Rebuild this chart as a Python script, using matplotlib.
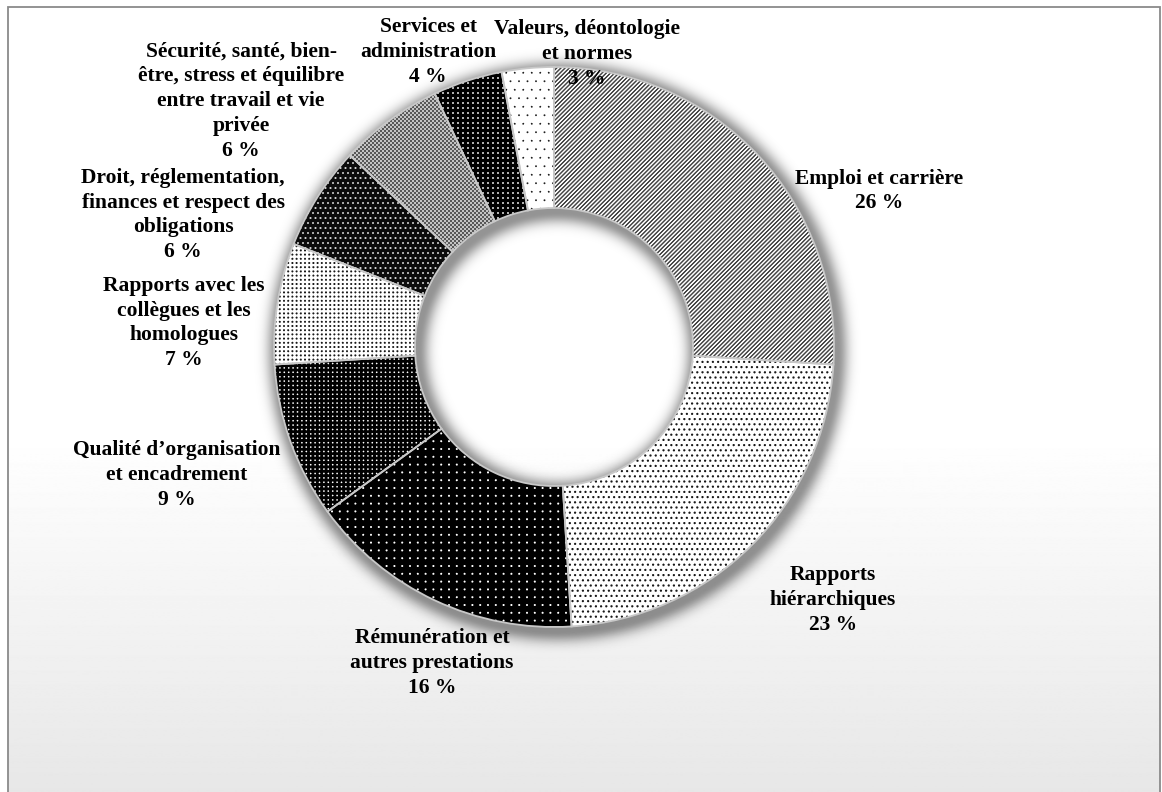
import matplotlib
import numpy as np

matplotlib.use('agg')
import matplotlib.pyplot as plt
from matplotlib.patches import Rectangle

# share of requests per theme (%)
categories = ['Emploi et carrière',
              'Rapports\nhiérarchiques',
              'Rémunération et\nautres prestations',
              'Qualité d’organisation\net encadrement',
              'Rapports avec les\ncollègues et les\nhomologues',
              'Droit, réglementation,\nfinances et respect des\nobligations',
              'Sécurité, santé, bien-\nêtre, stress et équilibre\nentre travail et vie\nprivée',
              'Services et\nadministration',
              'Valeurs, déontologie\net normes']
values = [26, 23, 16, 9, 7, 6, 6, 4, 3]

W, H = 1162, 792
cx, cy = 554, 347          # ring centre (pixels, from top)
r_out, r_in = 280, 139

# label anchors (pixels, from top)
label_xy = [(879, 191), (833, 600), (432, 663), (177, 475), (184, 323),
            (183, 215), (241, 101), (428, 52), (587, 54)]

# texture tile covering the ring
x0, y0 = cx - r_out - 4, cy - r_out - 4
n = 2 * r_out + 8
YY, XX = np.mgrid[0:n, 0:n].astype(float)
XX += x0
YY += y0


def rgb(c):
    return np.array(matplotlib.colors.to_rgb(c))


def mix(mask, fg, bg):
    out = np.ones((n, n, 4))
    out[..., :3] = mask[..., None] * rgb(fg) + (1 - mask[..., None]) * rgb(bg)
    return out


def dots(step, rad, fg, bg, stagger=False):
    xs = XX.copy()
    if stagger:
        xs += (np.floor(YY / step) % 2) * step / 2
    dx = (xs % step) - step / 2
    dy = (YY % step) - step / 2
    d = np.hypot(dx, dy)
    return mix(np.clip(rad + 0.5 - d, 0, 1), fg, bg)


def diag(step, duty, fg, bg):
    ph = ((XX + YY) % step) / step
    m = np.clip(1 - np.abs(ph - 0.5) * 2 / duty + 0.5, 0, 1)
    return mix(m, fg, bg)


def checker(c1, c2):
    m = ((np.floor(XX / 2) + np.floor(YY / 2)) % 2).astype(float)
    return mix(m, c1, c2)


textures = [
    diag(4.2, 0.5, '#454545', 'white'),
    dots(5.2, 1.1, '#181818', 'white', stagger=True),
    dots(7.8, 1.0, 'white', 'black'),
    dots(4.4, 0.8, 'white', 'black'),
    dots(4.2, 1.0, '#181818', 'white'),
    dots(5.0, 1.0, '#d0d0d0', '#0c0c0c', stagger=True),
    checker('#585858', '#c4c4c4'),
    dots(5.0, 0.9, 'white', 'black'),
    dots(8.5, 0.9, '#202020', 'white', stagger=True),
]

fig = plt.figure(figsize=(W / 100, H / 100), dpi=100)
ax = fig.add_axes([0, 0, 1, 1])

# panel background: white fading to light grey at the bottom
rows = np.arange(H)
shade = 1 - 0.095 * np.clip((rows - 430) / (H - 430), 0, 1)
grad = np.repeat(shade[:, None], 2, axis=1)
ax.imshow(grad, cmap='gray', vmin=0, vmax=1, extent=(8, 1160, 0, H - 7),
          origin='upper', aspect='auto', zorder=0)
ax.add_patch(Rectangle((8, -10), 1152, H - 7 + 10, fill=False,
                       edgecolor='#8a8a8a', lw=1.3, zorder=1))

# soft shadow under the ring
yy, xx = np.mgrid[0:H, 0:W]
rr = np.hypot(xx - (cx + 3), yy - (cy + 4))
dist = np.maximum(rr - r_out, r_in - rr).clip(0)
alpha = 0.42 * np.exp(-(dist / 11.0) ** 2)
sh = np.zeros((H, W, 4))
sh[..., 3] = alpha
ax.imshow(sh, extent=(0, W, 0, H), origin='upper', aspect='auto', zorder=2)

wedges, _ = ax.pie(values, radius=r_out, center=(cx, H - cy), startangle=90,
                   counterclock=False, frame=True,
                   wedgeprops=dict(width=r_out - r_in, linewidth=0,
                                   facecolor='white'))
ext = (x0, x0 + n, H - (y0 + n), H - y0)
for w, tex in zip(wedges, textures):
    w.set_zorder(3)
    im = ax.imshow(tex, extent=ext, origin='upper', aspect='auto',
                   interpolation='nearest', zorder=3.5)
    im.set_clip_path(w)

# light separators between slices
seps, _ = ax.pie(values, radius=r_out, center=(cx, H - cy), startangle=90,
                 counterclock=False, frame=True,
                 wedgeprops=dict(width=r_out - r_in, fill=False,
                                 edgecolor='#c8c8c8', linewidth=1.3))
for s in seps:
    s.set_zorder(4)

ax.set_xlim(0, W)
ax.set_ylim(0, H)
ax.set_aspect('auto')
ax.axis('off')

for name, v, (lx, ly) in zip(categories, values, label_xy):
    ax.text(lx, H - ly, f'{name}\n{v} %', ha='center', va='center',
            family='Liberation Serif', weight='bold', fontsize=15.5,
            linespacing=1.32, zorder=5)

fig.savefig('out.png', dpi=100)
